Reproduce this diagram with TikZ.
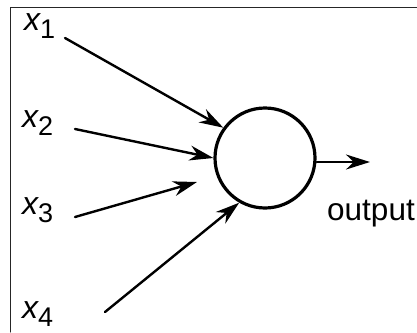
\documentclass[tikz,border=0pt]{standalone}
\usepackage{fontspec}
\setmainfont{Liberation Sans}
\usetikzlibrary{arrows.meta}

\newcommand{\inlabel}[1]{{\itshape x}\raisebox{-8pt}{\fontsize{27}{27}\selectfont #1}}

\begin{document}
\begin{tikzpicture}[x=1pt,y=-1pt,line cap=round,line join=round,
  inarrow/.style={-{Stealth[length=24pt,width=15pt]},line width=2.4pt},
  inlab/.style={anchor=base west,inner sep=0pt,font=\fontsize{32}{32}\selectfont}]
\useasboundingbox (0,0) rectangle (417,332);
\draw[black!85,line width=1pt] (10,332) -- (10,7) -- (417,7);
% unit
\node[circle,draw,line width=3.2pt,minimum size=100pt,inner sep=0pt] (neuron) at (265,158) {};
% inputs
\node[inlab] (x1) at (24,30) {\inlabel{1}};
\node[inlab] (x2) at (22,127) {\inlabel{2}};
\node[inlab] (x3) at (22,214) {\inlabel{3}};
\node[inlab] (x4) at (22,318) {\inlabel{4}};
\coordinate (s1) at (65,38);
\coordinate (s2) at (75,129);
\coordinate (s3) at (75,217);
\coordinate (s4) at (105,312);
\coordinate (t3) at (197,182);
\draw[inarrow] (s1) -- (neuron.144);
\draw[inarrow] (s2) -- (neuron.180);
\draw[inarrow] (s3) -- (t3);
\draw[inarrow] (s4) -- (neuron.240);
% output
\coordinate (o) at (370,162);
\draw[inarrow] (neuron.east |- o) -- (o);
\node[anchor=base west,inner sep=0pt,font=\fontsize{31.5}{31.5}\selectfont] (out) at (327,220) {output};
\end{tikzpicture}
\end{document}
